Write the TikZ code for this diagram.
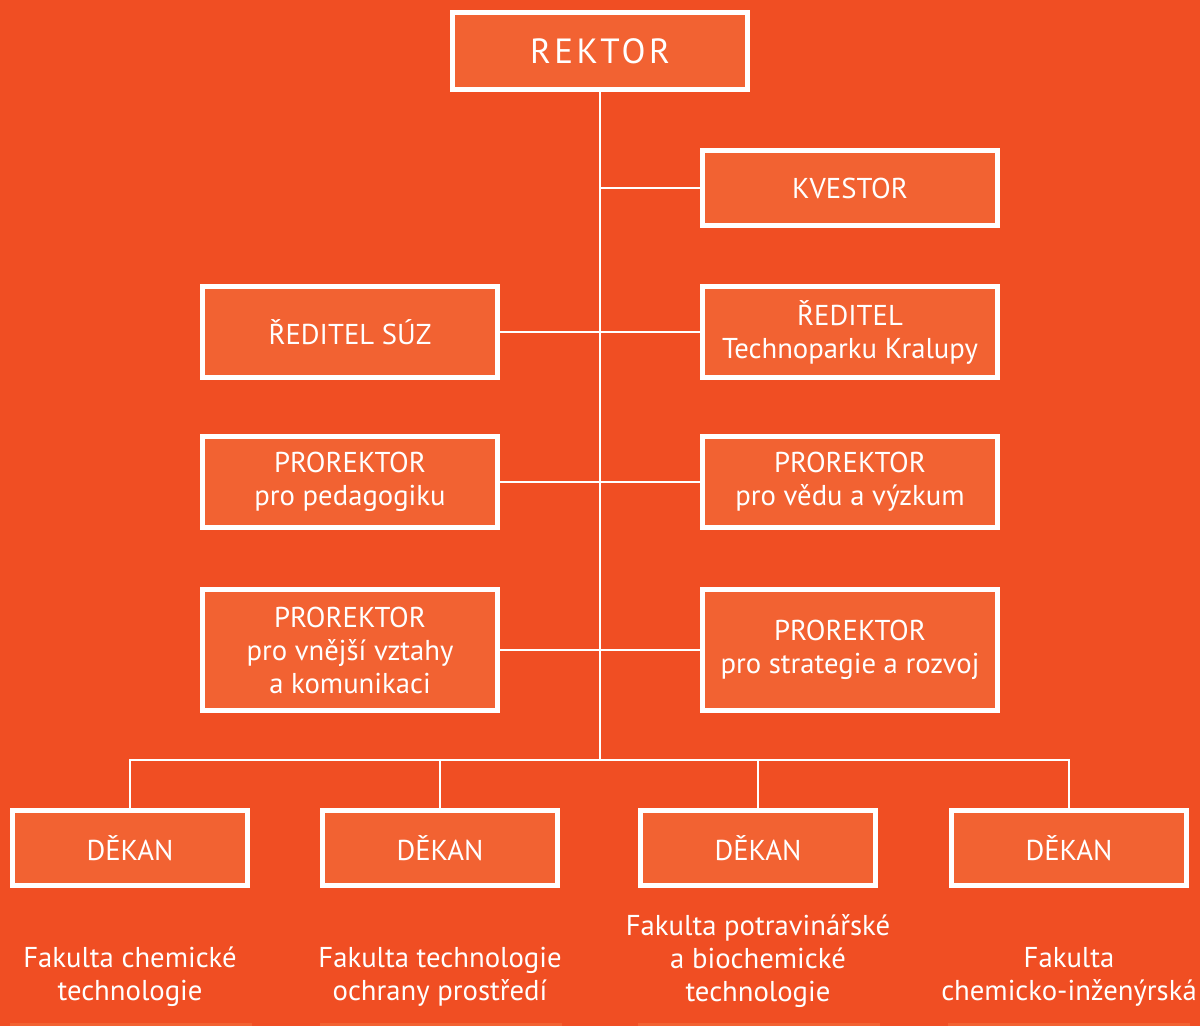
\documentclass[tikz,border=0pt]{standalone}
\usepackage{fontspec}
\setmainfont{PT Sans}
\definecolor{bgorange}{HTML}{F04E23}
\definecolor{boxorange}{HTML}{F26232}

\begin{document}
\begin{tikzpicture}[x=1pt, y=-1pt,
    every node/.style={
        text=white,
        align=center,
        inner sep=0pt,
        font=\fontsize{28.7}{33}\selectfont},
    orgbox/.style={
        draw=white,
        fill=boxorange,
        line width=5pt,
        minimum width=295pt},
    dekanbox/.style={orgbox, minimum width=235pt, minimum height=75pt},
    link/.style={draw=white, line width=2pt}]

    \fill[bgorange] (0,0) rectangle (1200,1026);
    \useasboundingbox (0,0) rectangle (1200,1026);

    % top of the next row, cut by the page edge
    \foreach \x in {10,320,638,948}
        \fill[boxorange] (\x,1023) rectangle ++(242,3);

    \node[orgbox, minimum height=77pt,
          font=\fontsize{35}{40}\selectfont\addfontfeature{LetterSpace=10}]
          (rektor) at (600,51) {REKTOR};

    \node[orgbox, minimum height=75pt] (kvestor) at (850,188) {KVESTOR};

    \node[orgbox, minimum height=91pt] (suz) at (350,332) {ŘEDITEL SÚZ};
    \node[orgbox, minimum height=91pt] (technopark) at (850,332) {ŘEDITEL\\Technoparku Kralupy};

    \node[orgbox, minimum height=91pt] (pedagogika) at (350,482) {PROREKTOR\\pro pedagogiku};
    \node[orgbox, minimum height=91pt] (veda) at (850,482) {PROREKTOR\\pro vědu a výzkum};

    \node[orgbox, minimum height=121pt] (vztahy) at (350,650) {PROREKTOR\\pro vnější vztahy\\a komunikaci};
    \node[orgbox, minimum height=121pt] (strategie) at (850,650) {PROREKTOR\\pro strategie a rozvoj};

    \node[dekanbox] (dekanA) at (130,848) {DĚKAN};
    \node[dekanbox] (dekanB) at (440,848) {DĚKAN};
    \node[dekanbox] (dekanC) at (758,848) {DĚKAN};
    \node[dekanbox] (dekanD) at (1069,848) {DĚKAN};

    \node (fakultaA) at (130,977) {Fakulta chemické\\technologie};
    \node (fakultaB) at (440,977) {Fakulta technologie\\ochrany prostředí};
    \node (fakultaC) at (758,961) {Fakulta potravinářské\\a biochemické\\technologie};
    \node (fakultaD) at (1069,977) {Fakulta\\chemicko-inženýrská};

    \coordinate (bus) at (600,760);

    \draw[link] (rektor.south) -- (bus);
    \draw[link] (kvestor.west) -- (kvestor.west -| rektor.south);
    \draw[link] (suz.east) -- (technopark.west);
    \draw[link] (pedagogika.east) -- (veda.west);
    \draw[link] (vztahy.east) -- (strategie.west);
    \draw[link] (dekanA.north) |- (bus) -| (dekanD.north);
    \draw[link] (dekanB.north) -- (dekanB.north |- bus);
    \draw[link] (dekanC.north) -- (dekanC.north |- bus);
\end{tikzpicture}
\end{document}
